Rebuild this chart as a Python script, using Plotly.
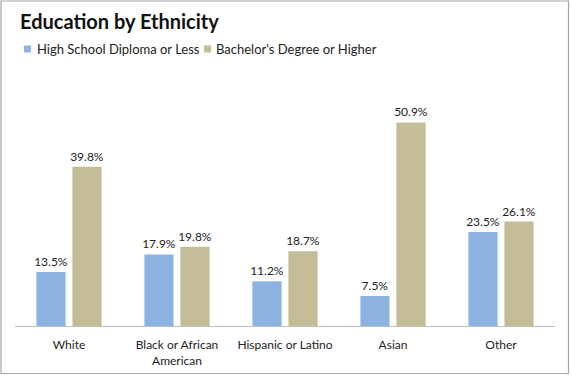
import plotly.graph_objects as go

categories = ["White", "Black or African<br>American", "Hispanic or Latino", "Asian", "Other"]
hs_or_less = [13.5, 17.9, 11.2, 7.5, 23.5]
bachelors_plus = [39.8, 19.8, 18.7, 50.9, 26.1]
series_names = ["High School Diploma or Less", "Bachelor's Degree or Higher"]
series_colors = ["#8DB3E2", "#C4BD97"]

W, H = 570, 375
L, R, T, B = 15, 15, 86, 49
pw, ph = W - L - R, H - T - B

FONT = "Lato"


def px_x(x):
    return (x - L) / pw


def px_y(y):
    return (H - B - y) / ph


fig = go.Figure()
for vals, name, col in zip([hs_or_less, bachelors_plus], series_names, series_colors):
    fig.add_trace(go.Bar(
        x=categories, y=vals, name=name,
        marker=dict(color=col, line=dict(width=0)),
        text=[f"{v:.1f}%" for v in vals], textposition="outside",
        constraintext="none",
        textfont=dict(size=12, color="#222", family=FONT), cliponaxis=False,
        showlegend=False,
    ))

# legend drawn as swatches + labels
legend_items = [(24, 35), (204, 214)]
shapes = [dict(type="rect", xref="paper", yref="paper",
               x0=px_x(1), x1=px_x(568.5),
               y0=px_y(373.5), y1=px_y(1),
               line=dict(color="#A6A6A6", width=1.2))]
annotations = []
for (sx, tx), name, col in zip(legend_items, series_names, series_colors):
    shapes.append(dict(type="rect", xref="paper", yref="paper",
                       x0=px_x(sx), x1=px_x(sx + 7), y0=px_y(52.5), y1=px_y(45.5),
                       fillcolor=col, line=dict(width=0)))
    annotations.append(dict(text=name, xref="paper", yref="paper",
                            x=px_x(tx), y=px_y(49), xanchor="left", yanchor="middle",
                            showarrow=False, font=dict(size=13, family=FONT, color="#222")))

fig.update_layout(
    width=W, height=H,
    margin=dict(l=L, r=R, t=T, b=B, autoexpand=False),
    paper_bgcolor="white", plot_bgcolor="white",
    barmode="group", bargap=0.333, bargroupgap=0.19,
    font=dict(family=FONT, size=12, color="#222"),
    title=dict(text="<b>Education by Ethnicity</b>", x=20 / W, xanchor="left",
               y=1 - 22 / H, yanchor="middle", automargin=False,
               font=dict(size=20, family=FONT, color="#111")),
    showlegend=False,
    xaxis=dict(showline=True, linecolor="#BFBFBF", linewidth=1, ticks="",
               ticklabelstandoff=8, automargin=False,
               tickfont=dict(size=12, family=FONT, color="#222"), showgrid=False),
    yaxis=dict(range=[0, 60], visible=False, showgrid=False, zeroline=False,
               automargin=False),
    shapes=shapes,
    annotations=annotations,
)

fig.write_html("out.html", config={"displayModeBar": False},
               post_script="document.body.style.margin='0';document.body.style.overflow='hidden';")
